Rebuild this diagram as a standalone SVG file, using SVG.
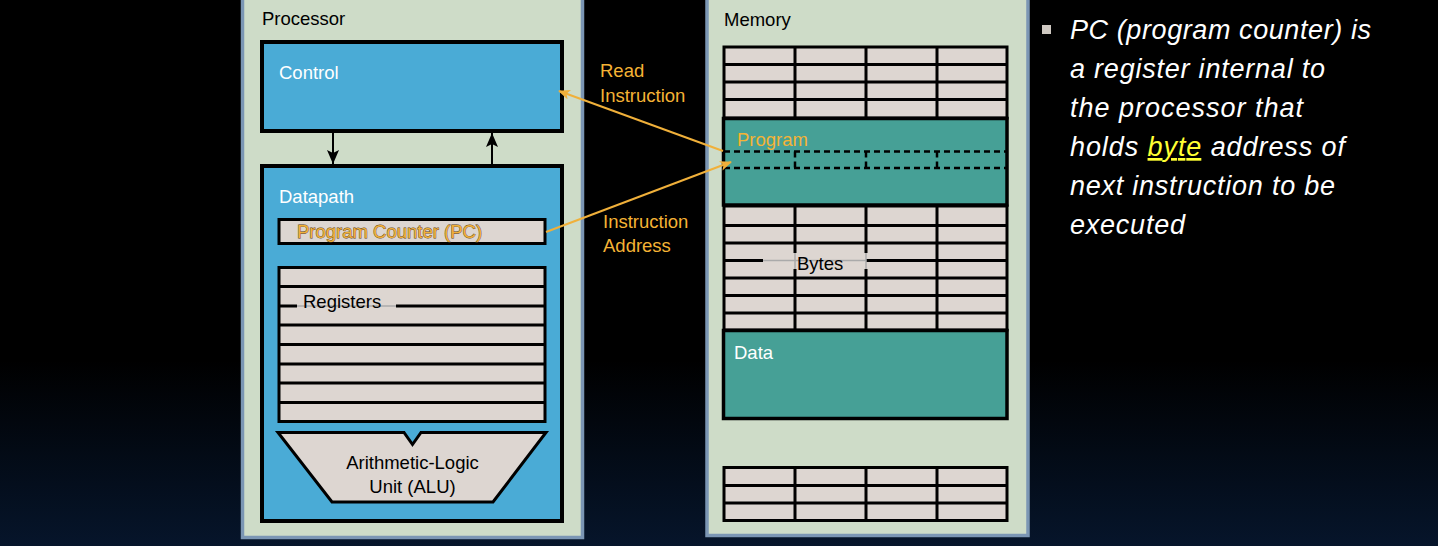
<svg xmlns="http://www.w3.org/2000/svg" width="1438" height="546" viewBox="0 0 1438 546">
<defs>
<linearGradient id="bg" x1="0" y1="0" x2="0" y2="1">
<stop offset="0" stop-color="#000000"/>
<stop offset="0.66" stop-color="#000000"/>
<stop offset="1" stop-color="#06152b"/>
</linearGradient>
<marker id="ah-o" viewBox="0 0 12 10" refX="11" refY="5" markerWidth="12" markerHeight="10" markerUnits="userSpaceOnUse" orient="auto">
<path d="M0,0 L12,5 L0,10 L3,5 Z" fill="#f0b03a"/>
</marker>
<marker id="ah-k" viewBox="0 0 14 12" refX="14" refY="6" markerWidth="14" markerHeight="12" markerUnits="userSpaceOnUse" orient="auto">
<path d="M0,0 L14,6 L0,12 L3,6 Z" fill="#000"/>
</marker>
</defs>
<style>
.panel{fill:#cedcc8;stroke:#7b96b4;stroke-width:3.5}
.blue{fill:#4aabd6;stroke:#000;stroke-width:4}
.cell{fill:#ddd6d1;stroke:#000;stroke-width:3}
.teal{fill:#46a096;stroke:#000;stroke-width:3.5}
.ln{stroke:#000;stroke-width:3;fill:none}
.gl{stroke:#aaa;stroke-width:1.5;fill:none}
.dash{stroke:#000;stroke-width:2.5;fill:none;stroke-dasharray:6 4}
.t{font-family:"Liberation Sans",Arial,sans-serif;font-size:18.5px;fill:#000}
.w{fill:#fff}
.o{fill:#f5b335}
.cap{font-family:"Liberation Sans",Arial,sans-serif;font-style:italic;font-size:27px;fill:#fff}
.oarr{stroke:#f0b03a;stroke-width:2;fill:none}
.karr{stroke:#000;stroke-width:2;fill:none}
</style>
<rect x="0" y="0" width="1438" height="546" fill="url(#bg)"/>

<g id="processor">
<rect class="panel" x="242.5" y="-2" width="340" height="539.5"/>
<text class="t" x="262" y="25">Processor</text>
</g>

<g id="control">
<rect class="blue" x="262" y="42" width="300" height="89"/>
<text class="t w" x="279" y="79">Control</text>
</g>

<g id="datapath">
<rect class="blue" x="262" y="166" width="300" height="355"/>
<text class="t w" x="279" y="203">Datapath</text>
</g>

<g id="pc">
<rect class="cell" x="279" y="219.5" width="266" height="24"/>
<text class="t" x="297" y="238" stroke="#5a4018" stroke-width="0.8" paint-order="stroke" style="fill:#f0b03a">Program Counter (PC)</text>
</g>

<g id="registers">
<rect class="cell" x="279" y="267.5" width="266" height="154"/>
<path class="ln" d="M279,286.5H545 M279,325H545 M279,344.5H545 M279,364H545 M279,383H545 M279,402.5H545 M279,306H297 M396,306H545"/>
<path class="gl" d="M297,306H396"/>
<text class="t" x="303" y="308">Registers</text>
</g>

<g id="alu">
<path d="M278,432.5 L404,432.5 L412.5,444.5 L421,432.5 L546,432.5 L493,502 L332,502 Z" fill="#ddd6d1" stroke="#000" stroke-width="3" stroke-linejoin="miter"/>
<text class="t" x="412.5" y="469" text-anchor="middle">Arithmetic-Logic</text>
<text class="t" x="412.5" y="493" text-anchor="middle">Unit (ALU)</text>
</g>

<g id="memory">
<rect class="panel" x="707" y="-2" width="321" height="537.5"/>
<text class="t" x="724" y="26">Memory</text>
</g>

<g id="memory-top-cells">
<rect class="cell" x="724" y="47" width="283" height="71"/>
<path class="ln" d="M724,64.5H1007 M724,82H1007 M724,99.5H1007 M795,47V118 M866,47V118 M937,47V118"/>
</g>

<g id="program">
<rect class="teal" x="723.5" y="118.5" width="283.5" height="86.5"/>
<path class="dash" d="M724,151.5H1008 M724,168H1008 M795,151.5V168 M866,151.5V168 M937,151.5V168"/>
<text class="t o" x="737" y="146">Program</text>
</g>

<g id="memory-mid-cells">
<rect class="cell" x="724" y="206" width="283" height="124"/>
<path class="ln" d="M724,225.5H1007 M724,243H1007 M724,278H1007 M724,295.5H1007 M724,313H1007 M724,260.5H763 M866,260.5H1007 M795,206V253 M795,269V330 M866,206V253 M866,269V330 M937,206V330"/>
<path class="gl" d="M763,260.5H866 M795,253V269 M866,253V269"/>
<text class="t" x="797" y="270">Bytes</text>
</g>

<g id="data">
<rect class="teal" x="723.5" y="330.5" width="283.5" height="88"/>
<text class="t w" x="734" y="359">Data</text>
</g>

<g id="memory-bottom-cells">
<rect class="cell" x="724" y="467.5" width="283" height="53"/>
<path class="ln" d="M724,485.5H1007 M724,503H1007 M795,467.5V520.5 M866,467.5V520.5 M937,467.5V520.5"/>
</g>

<g id="connectors">
<line class="karr" x1="333" y1="133" x2="333" y2="164" marker-end="url(#ah-k)"/>
<line class="karr" x1="492" y1="164" x2="492" y2="133" marker-end="url(#ah-k)"/>
<line class="oarr" x1="723" y1="151" x2="559" y2="91" marker-end="url(#ah-o)"/>
<line class="oarr" x1="546" y1="232" x2="731" y2="162" marker-end="url(#ah-o)"/>
</g>

<g id="labels">
<text class="t o" x="600" y="77">Read</text>
<text class="t o" x="600" y="102">Instruction</text>
<text class="t o" x="603" y="228">Instruction</text>
<text class="t o" x="603" y="252">Address</text>
</g>

<g id="caption">
<rect x="1042" y="25" width="9" height="9" fill="#cfc9c2"/>
<text class="cap" x="1070" y="39" textLength="301" lengthAdjust="spacing">PC (program counter) is</text>
<text class="cap" x="1070" y="78" textLength="255" lengthAdjust="spacing">a register internal to</text>
<text class="cap" x="1070" y="117" textLength="233" lengthAdjust="spacing">the processor that</text>
<text class="cap" x="1070" y="156" textLength="275" lengthAdjust="spacing">holds <tspan text-decoration="underline" style="fill:#ffff33">byte</tspan> address of</text>
<text class="cap" x="1070" y="195" textLength="265" lengthAdjust="spacing">next instruction to be</text>
<text class="cap" x="1070" y="234" textLength="115" lengthAdjust="spacing">executed</text>
</g>
</svg>
